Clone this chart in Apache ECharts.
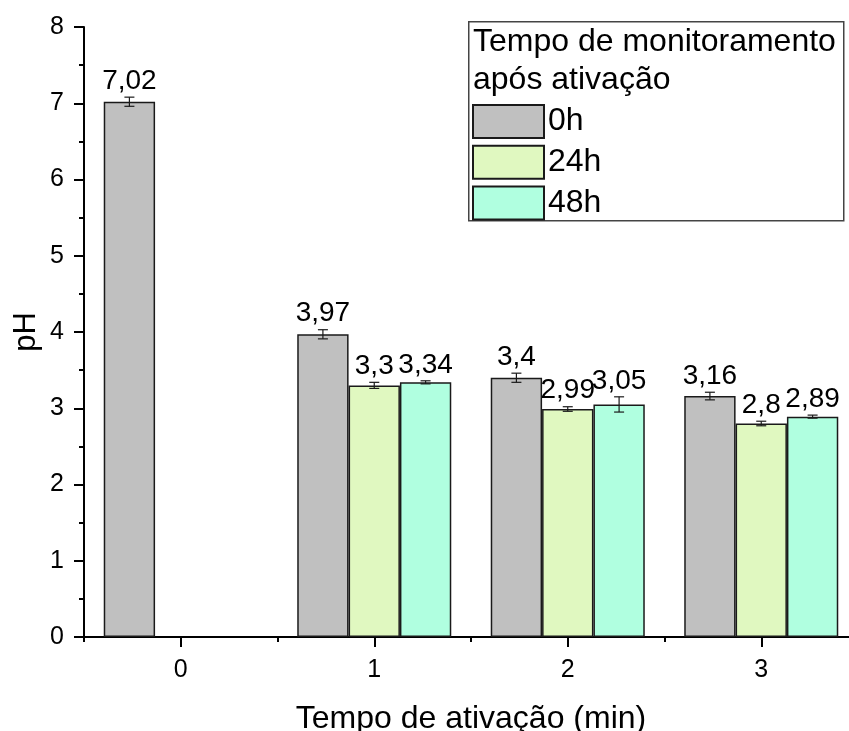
<!DOCTYPE html>
<html>
<head>
<meta charset="utf-8">
<script src="https://cdn.jsdelivr.net/npm/echarts@6/dist/echarts.min.js"></script>
<style>
  html, body { margin: 0; padding: 0; background: #fff; }
  #chart { width: 849px; height: 731px; }
</style>
</head>
<body>
<div id="chart"></div>
<script>
// Activation time categories (min)
const categories = ['0', '1', '2', '3'];
// Monitoring time after activation
const seriesNames = ['0h', '24h', '48h'];
// Mean pH per activation time
const ph0h  = [7.02, 3.97, 3.4, 3.16];
const ph24h = [null, 3.3, 2.99, 2.8];
const ph48h = [null, 3.34, 3.05, 2.89];
// Standard deviation
const err0h  = [0.06, 0.06, 0.06, 0.05];
const err24h = [null, 0.04, 0.03, 0.03];
const err48h = [null, 0.02, 0.10, 0.02];
// Y axis range
const yMin = 0, yMax = 8, yStep = 1;

const colors = ['#c0c0c0', '#e0f8c0', '#b0ffe0'];
const FONT = 'Arial, "Liberation Sans", sans-serif';
const CAT_GAP = 0.204;   // fraction of a category band left empty
const phSets = [ph0h, ph24h, ph48h];
const errSets = [err0h, err24h, err48h];

const fmt = v => String(v).replace('.', ',');

function barSeries(k) {
  return {
    name: seriesNames[k],
    type: 'bar',
    xAxisIndex: 0,
    data: phSets[k].map(v => v == null ? '-' : v),
    barGap: '0%',
    barCategoryGap: (CAT_GAP * 100) + '%',
    itemStyle: { color: colors[k], borderColor: '#1a1a1a', borderWidth: 1.5 },
    z: 2
  };
}

function errorSeries(k) {
  const data = [];
  phSets[k].forEach((v, i) => {
    if (v != null) data.push([i, v, errSets[k][i]]);
  });
  return {
    type: 'custom',
    xAxisIndex: 0,
    data: data,
    encode: { x: 0, y: 1 },
    z: 5,
    silent: true,
    renderItem: function (params, api) {
      const ci = api.value(0), v = api.value(1), e = api.value(2);
      const band = api.size([1, 0])[0];
      const bw = band * (1 - CAT_GAP) / 3;
      const cx = api.coord([ci, v])[0] + (k - 1) * bw;
      const yt = api.coord([ci, v + e])[1];
      const yb = api.coord([ci, v - e])[1];
      const cap = 5;
      const ls = { stroke: '#1a1a1a', lineWidth: 1.2 };
      return {
        type: 'group',
        children: [
          { type: 'line', shape: { x1: cx, y1: yt, x2: cx, y2: yb }, style: ls },
          { type: 'line', shape: { x1: cx - cap, y1: yt, x2: cx + cap, y2: yt }, style: ls },
          { type: 'line', shape: { x1: cx - cap, y1: yb, x2: cx + cap, y2: yb }, style: ls },
          { type: 'text', style: {
              text: fmt(v), x: cx, y: yt - 2,
              align: 'center', verticalAlign: 'bottom',
              fontSize: 28, fontFamily: FONT, fill: '#000'
          } }
        ]
      };
    }
  };
}

const chart = echarts.init(document.getElementById('chart'), null, { renderer: 'canvas' });

chart.setOption({
  animation: false,
  backgroundColor: '#fff',
  grid: { left: 84, top: 27, bottom: 94, right: -9, containLabel: false, outerBoundsMode: 'none' },
  xAxis: [
    {
      type: 'category',
      data: categories,
      position: 'bottom',
      name: 'Tempo de ativação (min)',
      nameLocation: 'middle',
      nameGap: 66,
      nameMoveOverlap: false,
      nameTextStyle: { fontSize: 32, fontFamily: FONT, color: '#000' },
      axisLine: { show: true, lineStyle: { color: '#000', width: 2 } },
      axisTick: { show: true, alignWithLabel: true, length: 10, lineStyle: { color: '#000', width: 2 } },
      axisLabel: { fontSize: 25, fontFamily: FONT, color: '#000', margin: 21 },
      splitLine: { show: false }
    },
    {
      type: 'category',
      data: categories,
      position: 'bottom',
      axisLine: { show: false },
      axisTick: { show: true, alignWithLabel: false, length: 5, lineStyle: { color: '#000', width: 2 } },
      axisLabel: { show: false },
      splitLine: { show: false }
    }
  ],
  yAxis: {
    type: 'value',
    min: yMin, max: yMax, interval: yStep,
    name: 'pH',
    nameLocation: 'middle',
    nameGap: 42,
    nameMoveOverlap: false,
    nameTextStyle: { fontSize: 31, fontFamily: FONT, color: '#000' },
    axisLine: { show: true, lineStyle: { color: '#000', width: 2 } },
    axisTick: { show: true, length: 10, lineStyle: { color: '#000', width: 2 } },
    minorTick: { show: true, splitNumber: 2, length: 5, lineStyle: { color: '#000', width: 2 } },
    axisLabel: { fontSize: 25, fontFamily: FONT, color: '#000', margin: 20 },
    splitLine: { show: false }
  },
  legend: {
    show: true,
    orient: 'vertical',
    left: 472, top: 104,
    itemWidth: 71, itemHeight: 33, itemGap: 5.7,
    icon: 'rect',
    data: seriesNames,
    padding: 0,
    textStyle: { fontSize: 32, fontFamily: FONT, color: '#000', padding: [0, 0, 0, -1] },
    selectedMode: false
  },
  graphic: [
    {
      type: 'rect', left: 468, top: 21, z: 0,
      shape: { width: 375, height: 199 },
      style: { fill: '#fff', stroke: '#444', lineWidth: 1.5 }
    },
    {
      type: 'text', left: 473, top: 23, z: 10,
      style: {
        text: 'Tempo de monitoramento\napós ativação',
        fontSize: 32, fontFamily: FONT, fill: '#000', lineHeight: 38
      }
    }
  ],
  series: [0, 1, 2].map(barSeries).concat([0, 1, 2].map(errorSeries))
});
</script>
</body>
</html>
